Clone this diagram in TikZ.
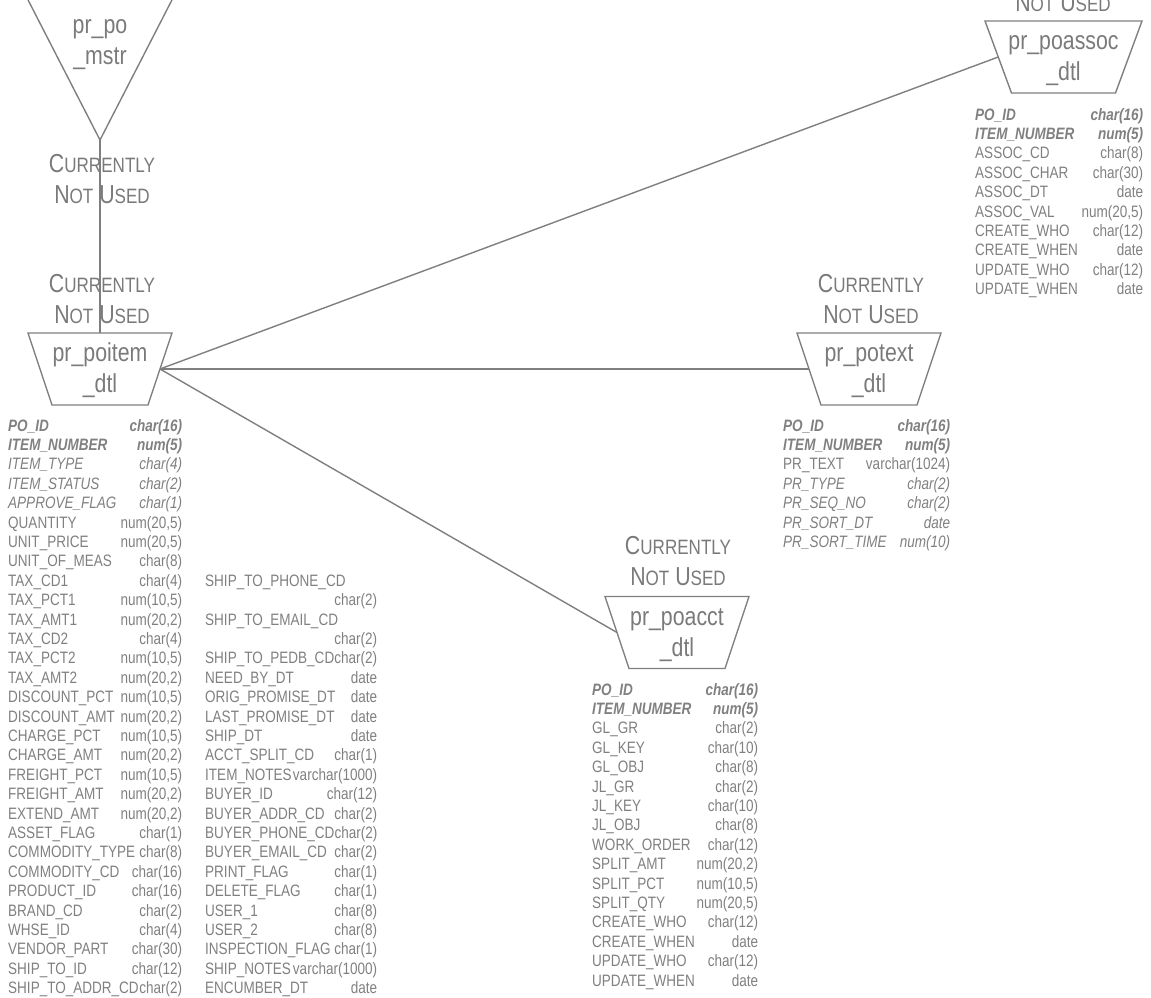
\documentclass[tikz,border=0pt]{standalone}
\usepackage{fontspec}
\setmainfont{Liberation Sans}[FakeStretch=0.82]
\definecolor{linec}{HTML}{7F7F7F}
\definecolor{titlec}{HTML}{7A7A7A}
\definecolor{attrc}{HTML}{808080}
\newcommand\rk{\bfseries\itshape}
\newcommand\ri{\itshape}
\newcommand\rn{}
\newcommand\fakesc[2]{#1{\fontsize{20.8bp}{31bp}\selectfont #2}}
% #1 prefix, #2 x, #3 first baseline, #4 width, #5 rows name/type/font
\newcommand\attrlist[5]{%
  \foreach \an/\at/\af [count=\ai from 0] in {#5}{%
    \node[attr] (#1-\ai) at (#2, #3+\ai*19.4) {\hbox to #4bp{\af\an\hfil\at}};
  }}
\begin{document}
\begin{tikzpicture}[x=1bp,y=-1bp,
  edge/.style={draw=linec, line width=1.4bp},
  title/.style={text=titlec, inner sep=0pt, align=center, font=\fontsize{26bp}{31bp}\selectfont},
  attr/.style={text=attrc, inner sep=0pt, anchor=base west, font=\fontsize{16.5bp}{19.4bp}\selectfont}]
\useasboundingbox (0,0) rectangle (1151,998);

% ---------- pr_po_mstr (triangle) ----------
\coordinate (mstr-apex) at (100,140);
\draw[edge] (7,-41) -- (193,-41) -- (mstr-apex) -- cycle;
\node[title] (mstr) at (100,42.3) {\strut pr\_po\\\strut\_mstr};

% ---------- pr_poitem_dtl ----------
\coordinate (poitem-top) at (100,333);
\coordinate (poitem-r) at (160,369);
\draw[edge] (28,333) -- (172,333) -- (148,405) -- (52,405) -- cycle;
\node[title] (poitem) at (100,371) {\strut pr\_poitem\\\strut\_dtl};

% ---------- pr_potext_dtl ----------
\coordinate (potext-l) at (809,369);
\draw[edge] (797,333) -- (941,333) -- (917,405) -- (821,405) -- cycle;
\node[title] (potext) at (869,371) {\strut pr\_potext\\\strut\_dtl};

% ---------- pr_poacct_dtl ----------
\coordinate (poacct-l) at (617,632.5);
\draw[edge] (605,596.5) -- (749,596.5) -- (725,668.5) -- (629,668.5) -- cycle;
\node[title] (poacct) at (677,634.5) {\strut pr\_poacct\\\strut\_dtl};

% ---------- pr_poassoc_dtl ----------
\coordinate (poassoc-l) at (998.25,57);
\draw[edge] (985,21) -- (1142,21) -- (1115.5,93) -- (1011.5,93) -- cycle;
\node[title] (poassoc) at (1063.5,59) {\strut pr\_poassoc\\\strut\_dtl};

% ---------- connectors ----------
\draw[edge] (mstr-apex) -- (poitem-top);
\draw[edge] (poitem-r) -- (poassoc-l);
\draw[edge] (poitem-r) -- (potext-l);
\draw[edge] (poitem-r) -- (poacct-l);

% ---------- labels ----------
\node[title] (lbl-mstr) at (102,181.6) {\strut\fakesc{C}{URRENTLY}\\\strut\fakesc{N}{OT} \fakesc{U}{SED}};
\node[title] (lbl-poitem) at (102,301.6) {\strut\fakesc{C}{URRENTLY}\\\strut\fakesc{N}{OT} \fakesc{U}{SED}};
\node[title] (lbl-potext) at (871,301.6) {\strut\fakesc{C}{URRENTLY}\\\strut\fakesc{N}{OT} \fakesc{U}{SED}};
\node[title] (lbl-poacct) at (678,563.6) {\strut\fakesc{C}{URRENTLY}\\\strut\fakesc{N}{OT} \fakesc{U}{SED}};
\node[title, anchor=base] (lbl-poassoc) at (1063,11) {\fakesc{N}{OT} \fakesc{U}{SED}};

% ---------- attribute lists ----------
\attrlist{pia}{8}{431}{174}{%
PO\_ID/char(16)/\rk, ITEM\_NUMBER/num(5)/\rk, ITEM\_TYPE/char(4)/\ri,
ITEM\_STATUS/char(2)/\ri, APPROVE\_FLAG/char(1)/\ri,
QUANTITY/{num(20,5)}/\rn, UNIT\_PRICE/{num(20,5)}/\rn, UNIT\_OF\_MEAS/char(8)/\rn,
TAX\_CD1/char(4)/\rn, TAX\_PCT1/{num(10,5)}/\rn, TAX\_AMT1/{num(20,2)}/\rn,
TAX\_CD2/char(4)/\rn, TAX\_PCT2/{num(10,5)}/\rn, TAX\_AMT2/{num(20,2)}/\rn,
DISCOUNT\_PCT/{num(10,5)}/\rn, DISCOUNT\_AMT/{num(20,2)}/\rn,
CHARGE\_PCT/{num(10,5)}/\rn, CHARGE\_AMT/{num(20,2)}/\rn,
FREIGHT\_PCT/{num(10,5)}/\rn, FREIGHT\_AMT/{num(20,2)}/\rn,
EXTEND\_AMT/{num(20,2)}/\rn, ASSET\_FLAG/char(1)/\rn,
COMMODITY\_TYPE/char(8)/\rn, COMMODITY\_CD/char(16)/\rn,
PRODUCT\_ID/char(16)/\rn, BRAND\_CD/char(2)/\rn, WHSE\_ID/char(4)/\rn,
VENDOR\_PART/char(30)/\rn, SHIP\_TO\_ID/char(12)/\rn, SHIP\_TO\_ADDR\_CD/char(2)/\rn}

\attrlist{pib}{205}{586.2}{172}{%
SHIP\_TO\_PHONE\_CD//\rn, /char(2)/\rn, SHIP\_TO\_EMAIL\_CD//\rn, /char(2)/\rn,
SHIP\_TO\_PEDB\_CD/char(2)/\rn, NEED\_BY\_DT/date/\rn,
ORIG\_PROMISE\_DT/date/\rn, LAST\_PROMISE\_DT/date/\rn, SHIP\_DT/date/\rn,
ACCT\_SPLIT\_CD/char(1)/\rn, ITEM\_NOTES/varchar(1000)/\rn, BUYER\_ID/char(12)/\rn,
BUYER\_ADDR\_CD/char(2)/\rn, BUYER\_PHONE\_CD/char(2)/\rn, BUYER\_EMAIL\_CD/char(2)/\rn,
PRINT\_FLAG/char(1)/\rn, DELETE\_FLAG/char(1)/\rn, USER\_1/char(8)/\rn,
USER\_2/char(8)/\rn, INSPECTION\_FLAG/char(1)/\rn, SHIP\_NOTES/varchar(1000)/\rn,
ENCUMBER\_DT/date/\rn}

\attrlist{pta}{783}{431}{167}{%
PO\_ID/char(16)/\rk, ITEM\_NUMBER/num(5)/\rk, PR\_TEXT/varchar(1024)/\rn,
PR\_TYPE/char(2)/\ri, PR\_SEQ\_NO/char(2)/\ri, PR\_SORT\_DT/date/\ri,
PR\_SORT\_TIME/num(10)/\ri}

\attrlist{paa}{592}{695}{166}{%
PO\_ID/char(16)/\rk, ITEM\_NUMBER/num(5)/\rk, GL\_GR/char(2)/\rn,
GL\_KEY/char(10)/\rn, GL\_OBJ/char(8)/\rn, JL\_GR/char(2)/\rn,
JL\_KEY/char(10)/\rn, JL\_OBJ/char(8)/\rn, WORK\_ORDER/char(12)/\rn,
SPLIT\_AMT/{num(20,2)}/\rn, SPLIT\_PCT/{num(10,5)}/\rn, SPLIT\_QTY/{num(20,5)}/\rn,
CREATE\_WHO/char(12)/\rn, CREATE\_WHEN/date/\rn, UPDATE\_WHO/char(12)/\rn,
UPDATE\_WHEN/date/\rn}

\attrlist{pas}{975}{120}{168}{%
PO\_ID/char(16)/\rk, ITEM\_NUMBER/num(5)/\rk, ASSOC\_CD/char(8)/\rn,
ASSOC\_CHAR/char(30)/\rn, ASSOC\_DT/date/\rn, ASSOC\_VAL/{num(20,5)}/\rn,
CREATE\_WHO/char(12)/\rn, CREATE\_WHEN/date/\rn, UPDATE\_WHO/char(12)/\rn,
UPDATE\_WHEN/date/\rn}
\end{tikzpicture}
\end{document}
